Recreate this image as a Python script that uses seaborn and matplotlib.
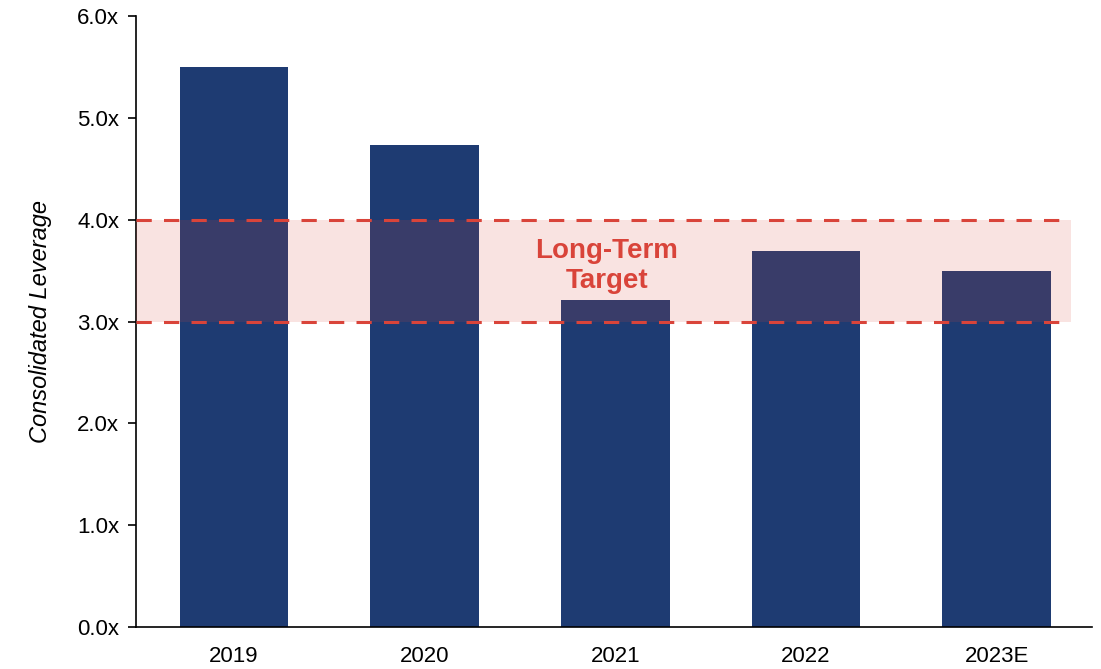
import pandas as pd
import numpy as np
import matplotlib.pyplot as plt
import seaborn as sns

sns.set_style("white")
plt.rcParams["font.family"] = ["Liberation Sans", "DejaVu Sans"]

years = ["2019", "2020", "2021", "2022", "2023E"]
leverage = [5.50, 4.73, 3.21, 3.69, 3.50]
target_low = 3.0
target_high = 4.0

bar_color = "#1E3B72"
red = "#D9443A"

df = pd.DataFrame({"year": years, "leverage": leverage})

fig = plt.figure(figsize=(11.01, 6.69), dpi=100)
ax = fig.add_axes([0.1235, 0.0628, 0.8683, 0.9132])

sns.barplot(data=df, x="year", y="leverage", color=bar_color,
            saturation=1, width=0.57, linewidth=0, ax=ax)

# long-term target band
x0, x1 = -0.514, 4.39
ax.fill_between([x0, x1], target_low, target_high, color=red, alpha=0.15,
                linewidth=0, zorder=3)
for yv in [target_low, target_high]:
    ax.plot([x0, x1], [yv, yv], color=red, lw=2.2, dashes=(5, 4), zorder=4)

ax.text(1.955, 3.55, "Long-Term\nTarget", color=red, fontsize=20,
        fontweight="bold", ha="center", va="center", linespacing=1.2,
        zorder=5)

ax.set_xlim(-0.514, 4.5)
ax.set_ylim(0, 6)
ax.set_yticks(np.arange(0, 6.1, 1))
ax.set_yticklabels([f"{v:.1f}x" for v in np.arange(0, 6.1, 1)])
ax.set_xlabel("")
ax.set_ylabel("Consolidated Leverage", fontsize=17, style="italic",
              labelpad=18, color="black")

sns.despine(ax=ax)
for s in ["left", "bottom"]:
    ax.spines[s].set_color("black")
    ax.spines[s].set_linewidth(1.2)
ax.tick_params(axis="y", left=True, length=6, width=1.2, color="black",
               labelcolor="black", labelsize=16, pad=6)
ax.tick_params(axis="x", bottom=False, labelcolor="black", labelsize=16, pad=10)

plt.savefig("out.png", dpi=100)
plt.close()
